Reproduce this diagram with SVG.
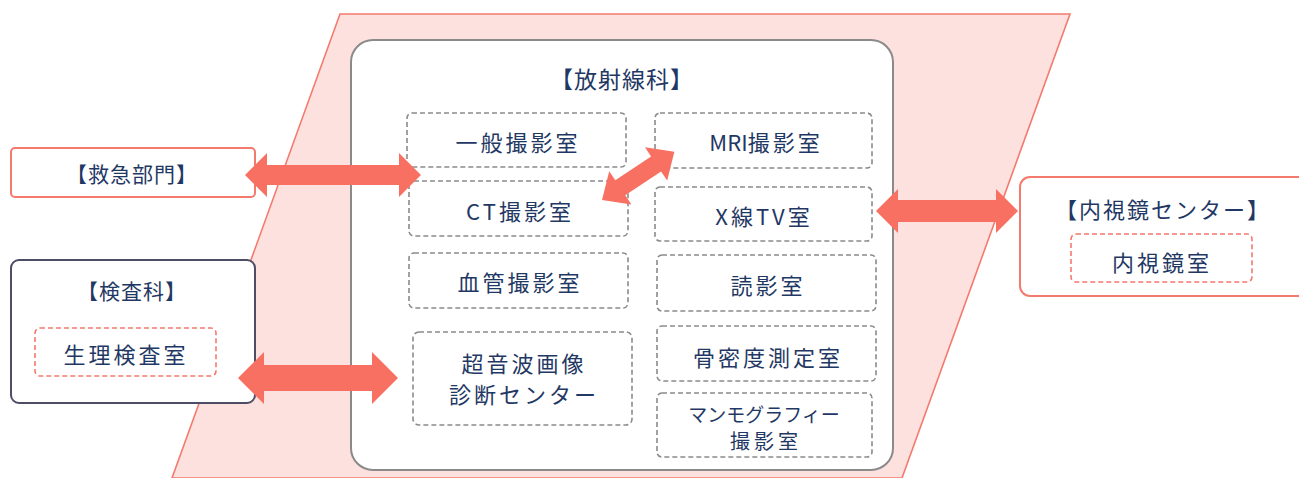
<svg xmlns="http://www.w3.org/2000/svg" width="1299" height="478" viewBox="0 0 1299 478">
<style>
.t{font-family:"Noto Sans CJK JP","Noto Sans",sans-serif;fill:#1f3864;text-anchor:middle;dominant-baseline:central}
.big{font-size:21px;letter-spacing:1px}
.room{font-size:22px;letter-spacing:3px}
.lat{letter-spacing:0}
.dash{fill:none;stroke:#8a8a8a;stroke-width:1.6;stroke-dasharray:5 3}
.rdash{fill:#fff;stroke:#f47a6e;stroke-width:1.6;stroke-dasharray:5 3}
.arrow{fill:#f77062}
</style>
<g id="background">
<polygon points="340,14 1070,14 902,478 172,478" fill="#fde1df" stroke="#f47a6e" stroke-width="1.6"/>
</g>
<g id="radiology">
<rect x="351" y="40" width="542" height="430" rx="22" fill="#fff" stroke="#8a8a8a" stroke-width="2"/>
<text class="t big" x="622" y="78" style="font-size:23px">【放射線科】</text>
</g>
<g id="general"><rect class="dash" x="407" y="113" width="219" height="54" rx="5"/><text class="t room" x="518" y="141">一般撮影室</text></g>
<g id="mri"><rect class="dash" x="655" y="113" width="217" height="55" rx="5"/><text class="t room" x="766" y="141"><tspan class="lat">MRI</tspan>撮影室</text></g>
<g id="ct"><rect class="dash" x="409" y="181" width="219" height="55" rx="5"/><text class="t room" x="520" y="210">CT撮影室</text></g>
<g id="xtv"><rect class="dash" x="655" y="187" width="217" height="54" rx="5"/><text class="t room" x="764" y="215">X線TV室</text></g>
<g id="angio"><rect class="dash" x="409" y="253" width="219" height="55" rx="5"/><text class="t room" x="520" y="281">血管撮影室</text></g>
<g id="reading"><rect class="dash" x="657" y="255" width="219" height="56" rx="5"/><text class="t room" x="768" y="284">読影室</text></g>
<g id="ultrasound"><rect class="dash" x="413" y="332" width="219" height="93" rx="6"/><text class="t room" x="524" y="362">超音波画像</text><text class="t room" x="524" y="393">診断センター</text></g>
<g id="bone"><rect class="dash" x="657" y="326" width="219" height="55" rx="5"/><text class="t room" x="768" y="356">骨密度測定室</text></g>
<g id="mammo"><rect class="dash" x="657" y="393" width="215" height="64" rx="5"/><text class="t" style="font-size:19px" x="764" y="413">マンモグラフィー</text><text class="t" style="font-size:20px;letter-spacing:4px" x="766" y="440">撮影室</text></g>
<g id="emergency">
<rect x="11" y="148" width="244" height="49" rx="4" fill="#fff" stroke="#f47a6e" stroke-width="2"/>
<text class="t big" x="132" y="173">【救急部門】</text>
</g>
<g id="lab">
<rect x="11" y="260" width="244" height="143" rx="8" fill="#fff" stroke="#4d4d66" stroke-width="2"/>
<text class="t big" x="132" y="290">【検査科】</text>
<rect class="rdash" x="35" y="328" width="181" height="48" rx="5"/>
<text class="t room" x="126" y="353">生理検査室</text>
</g>
<g id="endoscopy">
<rect x="1020" y="177" width="290" height="119" rx="10" fill="#fff" stroke="#f47a6e" stroke-width="2"/>
<text class="t big" x="1163" y="208" style="font-size:22px;letter-spacing:2px">【内視鏡センター】</text>
<rect class="rdash" x="1071" y="234" width="181" height="48" rx="5"/>
<text class="t room" x="1162" y="261">内視鏡室</text>
</g>
<g id="connectors">
<path class="arrow" transform="translate(245,175)" d="M0,0 L22,-22 L22,-10 L154,-10 L154,-22 L176,0 L154,22 L154,10 L22,10 L22,22 Z"/>
<path class="arrow" transform="translate(238,378)" d="M0,0 L26,-26 L26,-13 L134,-13 L134,-26 L160,0 L134,26 L134,13 L26,13 L26,26 Z"/>
<path class="arrow" transform="translate(876,211)" d="M0,0 L22,-22 L22,-11 L120,-11 L120,-22 L142,0 L120,22 L120,11 L22,11 L22,22 Z"/>
<path class="arrow" transform="translate(602,200) rotate(-33.7)" d="M0,0 L22,-20 L22,-9 L65,-9 L65,-20 L87,0 L65,20 L65,9 L22,9 L22,20 Z"/>
</g>
</svg>
